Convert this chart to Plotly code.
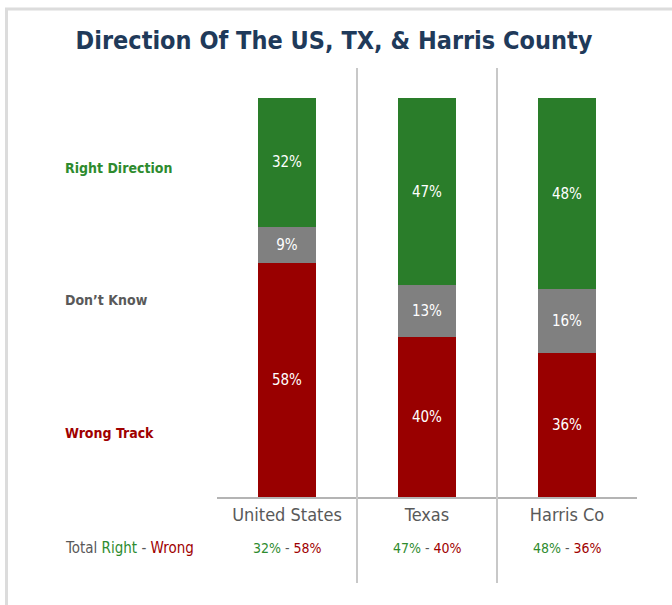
import plotly.graph_objects as go

categories = ["United States", "Texas", "Harris Co"]
right_direction = [32, 47, 48]
dont_know = [9, 13, 16]
wrong_track = [58, 40, 36]
row_labels = ["Right Direction", "Don\u2019t Know", "Wrong Track"]

W, H = 672, 605
L, R, T, B = 217, 35, 68, 108
PW, PH = W - L - R, H - T - B

def px(x):
    return (x - L) / PW

def py(y):
    return (H - B - y) / PH

FONT = "DejaVu Sans Condensed"
GREEN = "#2a7d2a"
GRAY = "#808080"
RED = "#990000"
TXT_GREEN = "#2e8b2e"
TXT_RED = "#a00000"
TXT_GRAY = "#595959"

fig = go.Figure()
for name, vals, col in [("Wrong Track", wrong_track, RED),
                        ("Don't Know", dont_know, GRAY),
                        ("Right Direction", right_direction, GREEN)]:
    fig.add_trace(go.Bar(
        x=categories, y=vals, name=name, marker_color=col,
        marker_line_width=0, width=0.41,
        text=[f"{v}%" for v in vals], textposition="inside",
        insidetextanchor="middle", constraintext="none", textangle=0,
        textfont=dict(color="white", size=15, family=FONT),
    ))

shapes = []
# frame
shapes.append(dict(type="line", xref="paper", yref="paper",
                   x0=px(5), x1=px(672), y0=py(9), y1=py(9),
                   line=dict(color="#dcdcdc", width=3)))
shapes.append(dict(type="line", xref="paper", yref="paper",
                   x0=px(6.5), x1=px(6.5), y0=py(9), y1=py(605),
                   line=dict(color="#dcdcdc", width=3)))
# separators
for xs in [0.5, 1.5]:
    shapes.append(dict(type="line", xref="x", yref="paper",
                       x0=xs, x1=xs, y0=py(583), y1=1,
                       line=dict(color="#c8c8c8", width=2)))

annotations = []
ys = [168, 300, 433]
cols = [TXT_GREEN, TXT_GRAY, TXT_RED]
for lab, yy, c in zip(row_labels, ys, cols):
    annotations.append(dict(text=f"<b>{lab}</b>", xref="paper", yref="paper",
                            x=px(63), y=py(yy), xanchor="left", yanchor="middle",
                            showarrow=False, font=dict(size=14, color=c, family=FONT)))
annotations.append(dict(
    text=f"Total <span style='color:{TXT_GREEN}'>Right</span> - <span style='color:{TXT_RED}'>Wrong</span>",
    xref="paper", yref="paper", x=px(63), y=py(548), xanchor="left", yanchor="middle",
    showarrow=False, font=dict(size=15, color=TXT_GRAY, family=FONT)))
for cat, r, w in zip(categories, right_direction, wrong_track):
    annotations.append(dict(
        text=f"<span style='color:{TXT_GREEN}'>{r}%</span> - <span style='color:{TXT_RED}'>{w}%</span>",
        xref="x", yref="paper", x=cat, y=py(548), xanchor="center", yanchor="middle",
        showarrow=False, font=dict(size=14, color=TXT_GRAY, family=FONT)))

fig.update_layout(
    width=W, height=H, margin=dict(l=L, r=R, t=T, b=B),
    barmode="stack", barnorm="percent",
    paper_bgcolor="white", plot_bgcolor="white",
    showlegend=False,
    title=dict(text="<b>Direction Of The US, TX, & Harris County</b>",
               x=334 / W, xref="container", xanchor="center",
               y=1 - 40 / H, yanchor="middle",
               font=dict(size=25, color="#1f3a5a", family=FONT)),
    xaxis=dict(showline=True, linecolor="#b4b4b4", linewidth=2,
               showgrid=False, ticks="", tickfont=dict(size=18, color=TXT_GRAY, family=FONT),
               range=[-0.5, 2.5], fixedrange=True),
    yaxis=dict(visible=False, range=[0, 107.5], showgrid=False, zeroline=False,
               fixedrange=True),
    shapes=shapes, annotations=annotations,
)

fig.write_html("out.html", config={"displayModeBar": False},
               post_script="document.body.style.margin='0';")
